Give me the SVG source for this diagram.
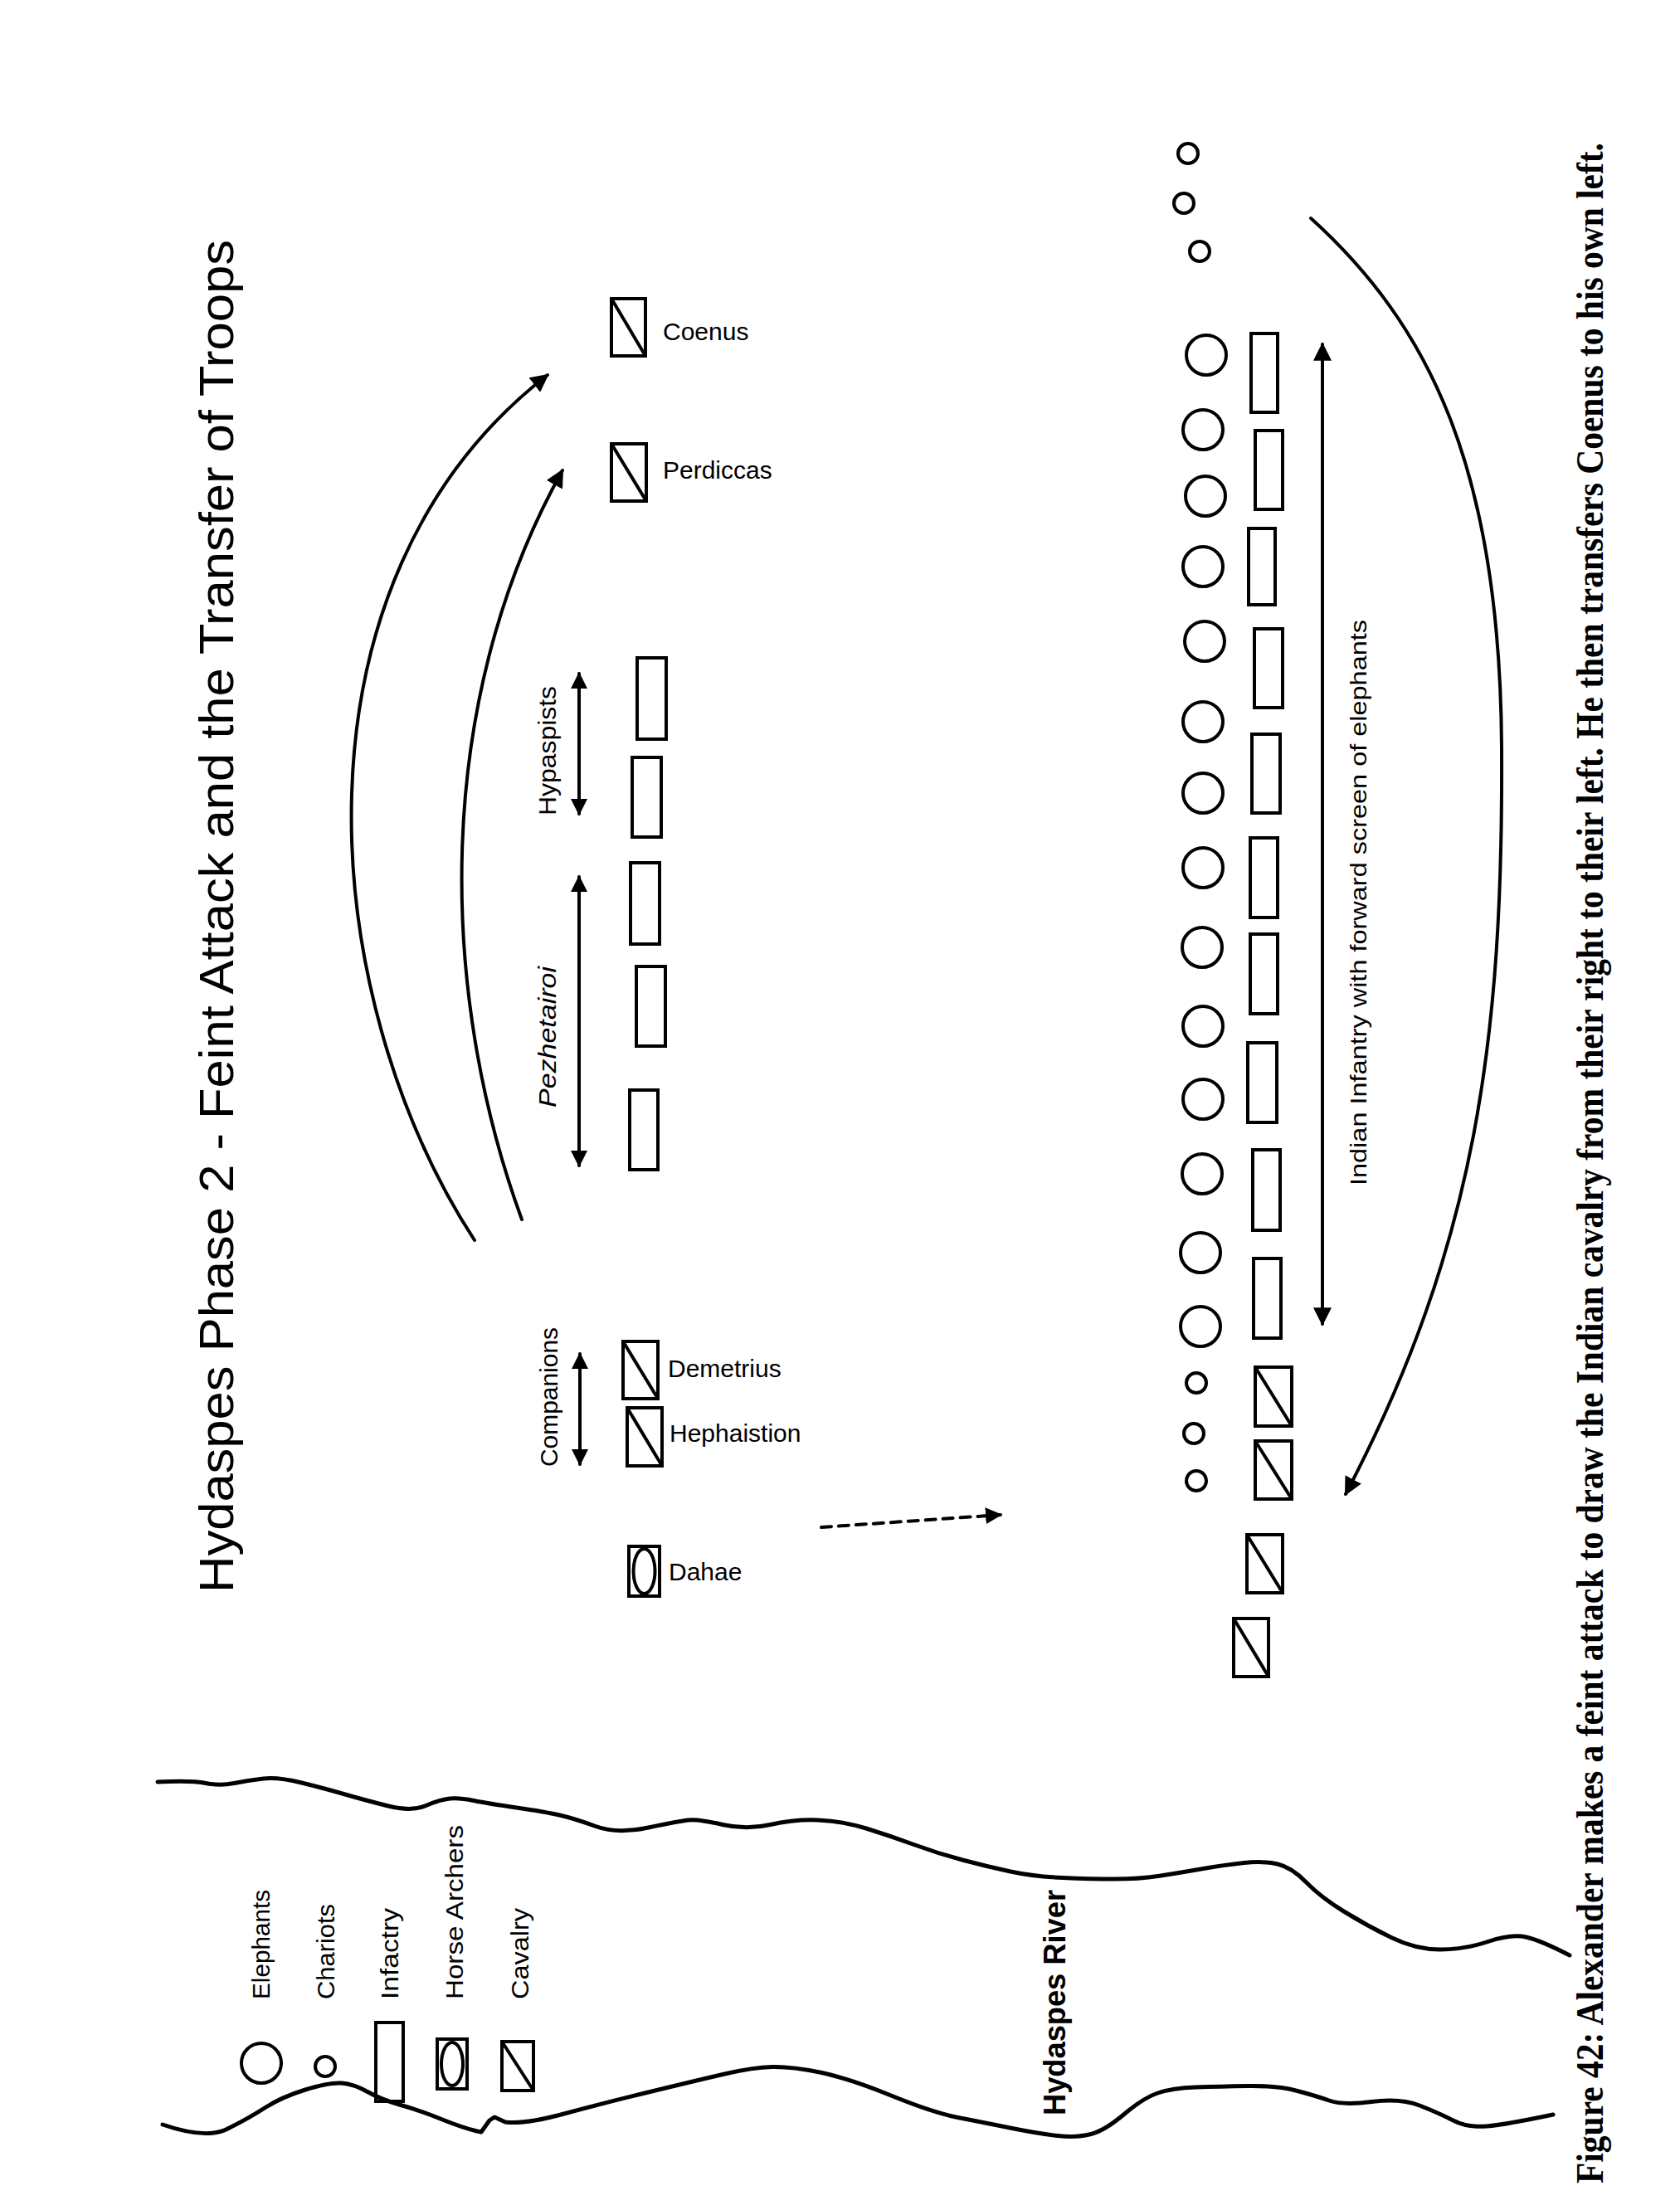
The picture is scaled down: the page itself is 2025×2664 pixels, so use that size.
<svg xmlns="http://www.w3.org/2000/svg" width="2025" height="2664" viewBox="0 0 2025 2664">
<style>
.s{fill:none;stroke:#000;stroke-width:4}
.ln{fill:none;stroke:#000;stroke-width:4;stroke-linecap:round}
.rv{fill:none;stroke:#000;stroke-width:5;stroke-linejoin:round;stroke-linecap:round}
.t{font-family:"Liberation Sans",Arial,sans-serif;fill:#000}
.cap{font-family:"Liberation Serif","Times New Roman",serif;font-weight:bold;fill:#000}
</style>
<defs>
<marker id="ah" viewBox="0 0 10 10" refX="9" refY="5" markerWidth="22" markerHeight="22" markerUnits="userSpaceOnUse" orient="auto-start-reverse"><path d="M0,0 L10,5 L0,10 z" fill="#000"/></marker>
<marker id="ahs" viewBox="0 0 10 10" refX="9" refY="5" markerWidth="20" markerHeight="20" markerUnits="userSpaceOnUse" orient="auto-start-reverse"><path d="M0,0 L10,5 L0,10 z" fill="#000"/></marker>
</defs>
<rect width="2025" height="2664" fill="#fff"/>

<text id="title" class="t" font-size="58" transform="translate(281,1920) rotate(-90)" textLength="1631" lengthAdjust="spacingAndGlyphs">Hydaspes Phase 2 - Feint Attack and the Transfer of Troops</text>

<g id="river">
<path class="rv" d="M190,2148 Q231,2146 248,2149.5 Q265,2153 282.5,2149.5 Q300,2146 317.5,2144 Q335,2142 363.5,2149 Q392,2156 416,2163 Q440,2170 468,2177 Q496,2184 513.5,2176.5 Q531,2169 542.5,2168 Q554,2167 571,2170.5 Q588,2174 622.5,2179 Q657,2184 674.5,2188 Q692,2192 718,2201.5 Q744,2211 781.5,2203 Q819,2195 830.5,2194 Q842,2193 871,2199.5 Q900,2206 928.5,2199.5 Q957,2193 986,2194 Q1015,2195 1044,2204 Q1073,2213 1101.5,2223.5 Q1130,2234 1160,2242 Q1190,2250 1218,2256 Q1246,2262 1280.5,2263.5 Q1315,2265 1344,2265 Q1373,2265 1396,2261.5 Q1419,2258 1447.5,2253 Q1476,2248 1499.5,2245.5 Q1523,2243 1540,2247 Q1557,2251 1574.5,2269 Q1592,2287 1620.5,2304.5 Q1649,2322 1678,2336 Q1707,2350 1736,2350 Q1765,2350 1793.5,2340.5 Q1822,2331 1839.5,2335 Q1857,2339 1892,2357"/>
<path class="rv" d="M196,2561 Q248,2579 273.5,2566.5 Q299,2554 319,2541 Q339,2528 368,2519 Q397,2510 411.5,2511 Q426,2512 443,2521.5 Q460,2531 483,2537.5 Q506,2544 532,2554.5 Q558,2565 575,2569 L580,2570 L590,2556 L596,2552 L609,2558 Q632,2561 678,2548.5 Q724,2536 781.5,2522 Q839,2508 873.5,2500 Q908,2492 931,2491.5 Q954,2491 988,2498 Q1022,2505 1074,2526 Q1126,2547 1154.5,2552.5 Q1183,2558 1217.5,2565 Q1252,2572 1275,2574.5 Q1298,2577 1315,2572.5 Q1332,2568 1355,2548.5 Q1378,2529 1395.5,2523 Q1413,2517 1441.5,2516 Q1470,2515 1504.5,2514.5 Q1539,2514 1562,2520 Q1585,2526 1602,2532 Q1619,2538 1653.5,2533.5 Q1688,2529 1711,2538 Q1734,2547 1751.5,2556 Q1769,2565 1792,2563 Q1815,2561 1872,2549"/>
<text class="t" font-weight="bold" font-size="36" transform="translate(1284,2550) rotate(-90)" textLength="272" lengthAdjust="spacingAndGlyphs">Hydaspes River</text>
</g>

<g id="legend">
<circle class="s" cx="315" cy="2487" r="24"/>
<circle class="s" cx="392" cy="2491" r="12"/>
<rect class="s" x="453" y="2438" width="33" height="95"/>
<rect class="s" x="527" y="2458" width="36" height="60"/>
<ellipse class="s" cx="545" cy="2488" rx="13" ry="26"/>
<rect class="s" x="605" y="2461" width="38" height="59"/>
<line class="s" x1="605" y1="2461" x2="643" y2="2520"/>
<text class="t" font-size="30" transform="translate(325,2410) rotate(-90)" textLength="132" lengthAdjust="spacingAndGlyphs">Elephants</text>
<text class="t" font-size="30" transform="translate(403,2410) rotate(-90)" textLength="115" lengthAdjust="spacingAndGlyphs">Chariots</text>
<text class="t" font-size="30" transform="translate(480,2410) rotate(-90)" textLength="110" lengthAdjust="spacingAndGlyphs">Infactry</text>
<text class="t" font-size="30" transform="translate(558,2410) rotate(-90)" textLength="210" lengthAdjust="spacingAndGlyphs">Horse Archers</text>
<text class="t" font-size="30" transform="translate(637,2410) rotate(-90)" textLength="110" lengthAdjust="spacingAndGlyphs">Cavalry</text>
</g>

<g id="coenus">
<rect class="s" x="737" y="360" width="41" height="69"/>
<line class="s" x1="737" y1="360" x2="778" y2="429"/>
<text class="t" font-size="30" x="799" y="410">Coenus</text>
</g>
<g id="perdiccas">
<rect class="s" x="737" y="535" width="42" height="69"/>
<line class="s" x1="737" y1="535" x2="779" y2="604"/>
<text class="t" font-size="30" x="799" y="577">Perdiccas</text>
</g>

<g id="hypaspists">
<rect class="s" x="768" y="793" width="35" height="98"/>
<rect class="s" x="762" y="913" width="35" height="96"/>
<text class="t" font-size="30" transform="translate(670,983) rotate(-90)" textLength="156" lengthAdjust="spacingAndGlyphs">Hypaspists</text>
</g>
<g id="pezhetairoi">
<rect class="s" x="760" y="1040" width="35" height="98"/>
<rect class="s" x="767" y="1165" width="35" height="96"/>
<rect class="s" x="759" y="1314" width="34" height="96"/>
<text class="t" font-size="30" font-style="italic" transform="translate(670,1335) rotate(-90)" textLength="170" lengthAdjust="spacingAndGlyphs">Pezhetairoi</text>
</g>

<g id="companions">
<text class="t" font-size="30" transform="translate(672,1768) rotate(-90)" textLength="168" lengthAdjust="spacingAndGlyphs">Companions</text>
</g>
<g id="demetrius">
<rect class="s" x="751" y="1617" width="42" height="69"/>
<line class="s" x1="751" y1="1617" x2="793" y2="1686"/>
<text class="t" font-size="30" x="805" y="1660">Demetrius</text>
</g>
<g id="hephaistion">
<rect class="s" x="756" y="1697" width="42" height="70"/>
<line class="s" x1="756" y1="1697" x2="798" y2="1767"/>
<text class="t" font-size="30" x="807" y="1738">Hephaistion</text>
</g>
<g id="dahae">
<rect class="s" x="758" y="1864" width="37" height="60"/>
<ellipse class="s" cx="776.5" cy="1894" rx="13" ry="27"/>
<text class="t" font-size="30" x="806" y="1905">Dahae</text>
</g>

<g id="indian-chariots">
<circle class="s" cx="1432" cy="185" r="12"/>
<circle class="s" cx="1427" cy="245" r="12"/>
<circle class="s" cx="1446" cy="303" r="12"/>
<circle class="s" cx="1442" cy="1667" r="12"/>
<circle class="s" cx="1439" cy="1728" r="12"/>
<circle class="s" cx="1442" cy="1785" r="12"/>
</g>

<g id="indian-elephants">
<circle class="s" cx="1454" cy="428" r="24"/>
<circle class="s" cx="1450" cy="518" r="24"/>
<circle class="s" cx="1453" cy="598" r="24"/>
<circle class="s" cx="1450" cy="683" r="24"/>
<circle class="s" cx="1452" cy="773" r="24"/>
<circle class="s" cx="1450" cy="870" r="24"/>
<circle class="s" cx="1450" cy="956" r="24"/>
<circle class="s" cx="1450" cy="1046" r="24"/>
<circle class="s" cx="1449" cy="1142" r="24"/>
<circle class="s" cx="1450" cy="1237" r="24"/>
<circle class="s" cx="1450" cy="1325" r="24"/>
<circle class="s" cx="1449" cy="1415" r="24"/>
<circle class="s" cx="1447" cy="1510" r="24"/>
<circle class="s" cx="1447" cy="1599" r="24"/>
</g>

<g id="indian-infantry">
<rect class="s" x="1508" y="402" width="32" height="95"/>
<rect class="s" x="1513" y="519" width="33" height="95"/>
<rect class="s" x="1505" y="637" width="32" height="92"/>
<rect class="s" x="1512" y="758" width="34" height="95"/>
<rect class="s" x="1509" y="885" width="34" height="95"/>
<rect class="s" x="1507" y="1010" width="33" height="96"/>
<rect class="s" x="1507" y="1126" width="33" height="96"/>
<rect class="s" x="1504" y="1257" width="35" height="96"/>
<rect class="s" x="1510" y="1386" width="33" height="97"/>
<rect class="s" x="1511" y="1517" width="33" height="96"/>
<text class="t" font-size="28" transform="translate(1647,1429) rotate(-90)" textLength="682" lengthAdjust="spacingAndGlyphs">Indian Infantry with forward screen of elephants</text>
</g>

<g id="indian-cavalry">
<rect class="s" x="1513" y="1648" width="44" height="71"/>
<line class="s" x1="1513" y1="1648" x2="1557" y2="1719"/>
<rect class="s" x="1513" y="1737" width="44" height="70"/>
<line class="s" x1="1513" y1="1737" x2="1557" y2="1807"/>
<rect class="s" x="1503" y="1850" width="43" height="70"/>
<line class="s" x1="1503" y1="1850" x2="1546" y2="1920"/>
<rect class="s" x="1487" y="1951" width="42" height="70"/>
<line class="s" x1="1487" y1="1951" x2="1529" y2="2021"/>
</g>

<g id="connectors">
<line class="ln" x1="698" y1="812" x2="698" y2="981" marker-start="url(#ahs)" marker-end="url(#ahs)"/>
<line class="ln" x1="698" y1="1057" x2="698" y2="1405" marker-start="url(#ahs)" marker-end="url(#ahs)"/>
<line class="ln" x1="699" y1="1632" x2="699" y2="1765" marker-start="url(#ahs)" marker-end="url(#ahs)"/>
<line class="ln" x1="1594" y1="415" x2="1594" y2="1596" marker-start="url(#ah)" marker-end="url(#ah)"/>
<path class="ln" d="M572,1495 C380,1200 340,700 660,452" marker-end="url(#ah)"/>
<path class="ln" d="M629,1470 C530,1200 520,850 678,567" marker-end="url(#ah)"/>
<path class="ln" d="M1580,263 C1720,390 1808,560 1810,900 C1812,1250 1780,1500 1622,1801" marker-end="url(#ah)"/>
<line class="ln" x1="990" y1="1841" x2="1206" y2="1826" stroke-dasharray="12 9" stroke-linecap="butt" marker-end="url(#ahs)"/>
</g>

<text id="caption" class="cap" font-size="37" transform="translate(1932,2632) rotate(-90) scale(1,1.25)" textLength="2460" lengthAdjust="spacingAndGlyphs">Figure 42: Alexander makes a feint attack to draw the Indian cavalry from their right to their left. He then transfers Coenus to his own left.</text>
</svg>
